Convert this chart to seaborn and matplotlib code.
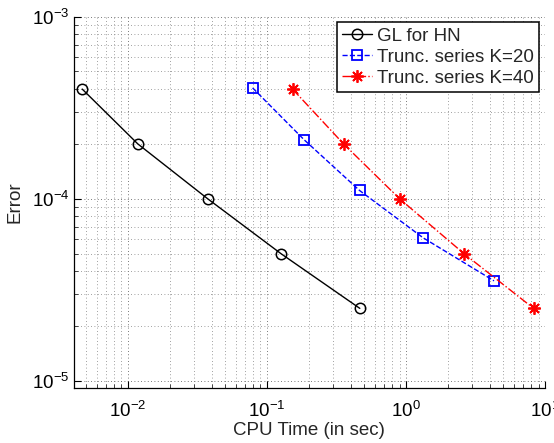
import numpy as np
import pandas as pd
import seaborn as sns
import matplotlib.pyplot as plt
from matplotlib.ticker import LogLocator, NullFormatter

# values

gl_time = [0.0047, 0.0118, 0.0375, 0.126, 0.466]
gl_error = [4.0e-4, 2.0e-4, 1.0e-4, 5.0e-5, 2.5e-5]

k20_time = [0.079, 0.185, 0.464, 1.33, 4.3]
k20_error = [4.06e-4, 2.11e-4, 1.11e-4, 6.1e-5, 3.54e-5]

k40_time = [0.153, 0.356, 0.90, 2.61, 8.28]
k40_error = [4.0e-4, 2.0e-4, 1.0e-4, 5.0e-5, 2.5e-5]

series_labels = ['GL for HN', 'Trunc. series K=20', 'Trunc. series K=40']

sns.set_style('ticks')
plt.rcParams['font.family'] = ['Liberation Sans', 'DejaVu Sans']
plt.rcParams['font.size'] = 13.5

fig = plt.figure(figsize=(5.54, 4.43), dpi=100)
ax = fig.add_axes([0.1327, 0.1235, 0.851, 0.839])
ax.set_xscale('log')
ax.set_yscale('log')

# Plotting the three series

sns.lineplot(x=gl_time, y=gl_error, ax=ax, color='black', linestyle='-', linewidth=1.0,
             marker='o', markersize=7.5, markerfacecolor='none', markeredgecolor='black',
             markeredgewidth=1.1, label=series_labels[0])
sns.lineplot(x=k20_time, y=k20_error, ax=ax, color='blue', linestyle='--', linewidth=1.0,
             marker='s', markersize=6.5, markerfacecolor='none', markeredgecolor='blue',
             markeredgewidth=1.3, label=series_labels[1])
sns.lineplot(x=k40_time, y=k40_error, ax=ax, color='red', linestyle='-.', linewidth=1.0,
             marker=(8, 2, 0), markersize=9, markerfacecolor='red', markeredgecolor='red',
             markeredgewidth=1.3, label=series_labels[2])

ax.set_xlim(4.07e-3, 10)
ax.set_ylim(9.1e-6, 1e-3)

# Grid and ticks in the MATLAB look

ax.xaxis.set_minor_locator(LogLocator(base=10, subs=np.arange(2, 10), numticks=20))
ax.yaxis.set_minor_locator(LogLocator(base=10, subs=np.arange(2, 10), numticks=20))
ax.xaxis.set_minor_formatter(NullFormatter())
ax.yaxis.set_minor_formatter(NullFormatter())
ax.grid(True, which='major', linestyle=(0, (1, 3)), color='0.3', linewidth=0.6)
ax.grid(True, which='minor', linestyle=(0, (1, 3)), color='0.5', linewidth=0.6)
ax.tick_params(which='major', direction='in', length=5, width=0.8, labelsize=13.5, colors='black')
ax.tick_params(which='minor', direction='in', length=3, width=0.6)
ax.tick_params(axis='x', pad=9)
ax.tick_params(axis='y', pad=3)

for side in ['top', 'right']:
    ax.spines[side].set_visible(False)
for side in ['left', 'bottom']:
    ax.spines[side].set_color('black')
    ax.spines[side].set_linewidth(0.9)

# Labelling the graph

ax.set_xlabel('CPU Time (in sec)', fontsize=13.5, labelpad=1)
ax.set_ylabel('Error', fontsize=13.5, labelpad=6)

leg = ax.legend(loc='upper right', fontsize=13.5, frameon=True, fancybox=False,
                framealpha=1, edgecolor='black', handlelength=1.6, handletextpad=0.25,
                borderpad=0.3, labelspacing=0.2, borderaxespad=0.3, numpoints=1)
leg.get_frame().set_linewidth(1.1)

fig.savefig('out.png', dpi=100)
